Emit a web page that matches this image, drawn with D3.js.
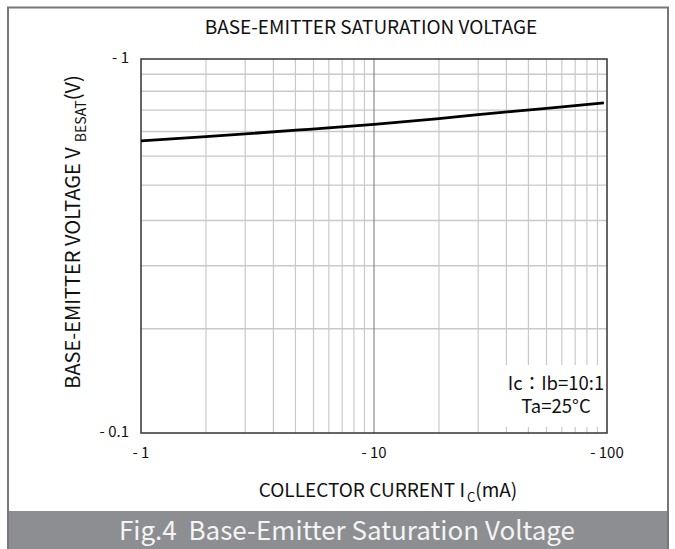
<!DOCTYPE html>
<html>
<head>
<meta charset="utf-8">
<script src="https://cdn.jsdelivr.net/npm/d3@7"></script>
<style>
  body { margin: 0; background: #fff; }
  svg text { font-family: "Noto Sans CJK SC", "Noto Sans", sans-serif; fill: #111; white-space: pre; }
</style>
</head>
<body>
<div class="d3-here"></div>
<script>
// data (magnitudes, labels carry the minus sign)
var currentMA = [1, 1.9, 4.8, 10, 19, 28, 55, 97];
var vbesat = [0.604, 0.620, 0.646, 0.669, 0.693, 0.710, 0.738, 0.763];
var xTicks = [1, 10, 100];
var xTickLabels = ['- 1', '- 10', '- 100'];
var yTicks = [0.1, 1];
var yTickLabels = ['- 0.1', '- 1'];
var xGrid = [1.9, 2.8, 3.7, 4.6, 5.5, 6.4, 7.3, 8.2, 9.1, 19, 28, 37, 46, 55, 64, 73, 82, 91];
var xMajorGrid = [10];
var yGrid = [0.19, 0.28, 0.37, 0.46, 0.55, 0.64, 0.73, 0.82, 0.91];
var noteLines = ['Ic\uff1aIb=10:1', 'Ta=25\u00b0C'];

// options
var W = 675, H = 549;
var pLeft = 141, pRight = 607, pTop = 59, pBottom = 433;
var gridColor = '#c9c9c9', majorColor = '#8a8a8a', frameColor = '#777';

var svg = d3.select('.d3-here').append('svg')
  .attr('width', W).attr('height', H);

// outer frame and caption band
svg.append('rect').attr('x', 8).attr('y', 511).attr('width', 660).attr('height', 40)
  .attr('fill', '#8d8e91');
svg.append('path').attr('d', 'M8,549 V7.5 H668 V549')
  .attr('fill', 'none').attr('stroke', frameColor).attr('stroke-width', 2);
svg.append('text').attr('x', 347).attr('y', 540).attr('text-anchor', 'middle')
  .style('font-size', '26px').style('fill', '#f4f4f4')
  .text('Fig.4  Base-Emitter Saturation Voltage');

// scales
var x = d3.scaleLog().domain([1, 100]).range([pLeft, pRight]);
var y = d3.scaleLog().domain([0.1, 1]).range([pBottom, pTop]);

// grid
var grid = svg.append('g');
grid.selectAll('.gx').data(xGrid).enter().append('line')
  .attr('x1', function(d) { return x(d); }).attr('x2', function(d) { return x(d); })
  .attr('y1', pTop).attr('y2', pBottom)
  .attr('stroke', gridColor).attr('stroke-width', 1.2);
grid.selectAll('.gy').data(yGrid).enter().append('line')
  .attr('x1', pLeft).attr('x2', pRight)
  .attr('y1', function(d) { return y(d); }).attr('y2', function(d) { return y(d); })
  .attr('stroke', gridColor).attr('stroke-width', 1.4);
grid.selectAll('.gm').data(xMajorGrid).enter().append('line')
  .attr('x1', function(d) { return x(d); }).attr('x2', function(d) { return x(d); })
  .attr('y1', pTop).attr('y2', pBottom)
  .attr('stroke', majorColor).attr('stroke-width', 1.2);

// note box covers the grid
svg.append('rect').attr('x', 495).attr('y', 365).attr('width', 108).attr('height', 62)
  .attr('fill', '#fff');
var note = svg.append('text').attr('y', 390)
  .attr('text-anchor', 'middle').style('font-size', '18.5px')
  .style('font-family', '"Noto Sans CJK TC", "Noto Sans CJK SC", sans-serif');
note.selectAll('tspan').data(noteLines).enter().append('tspan')
  .attr('x', 556).attr('dy', function(d, i) { return i ? 23 : 0; })
  .text(function(d) { return d; });

// plot border
svg.append('rect').attr('x', pLeft).attr('y', pTop)
  .attr('width', pRight - pLeft).attr('height', pBottom - pTop)
  .attr('fill', 'none').attr('stroke', '#333').attr('stroke-width', 1.5);

// curve
var line = d3.line()
  .x(function(d, i) { return x(currentMA[i]); })
  .y(function(d) { return y(d); })
  .curve(d3.curveMonotoneX);
svg.append('path').datum(vbesat).attr('d', line)
  .attr('fill', 'none').attr('stroke', '#000').attr('stroke-width', 2.8);

// tick labels
svg.selectAll('.tx').data(xTicks).enter().append('text')
  .attr('x', function(d) { return x(d); }).attr('y', 458)
  .attr('text-anchor', 'middle').style('font-size', '15px')
  .text(function(d, i) { return xTickLabels[i]; });
svg.selectAll('.ty').data(yTicks).enter().append('text')
  .attr('x', 129).attr('y', function(d) { return y(d) + 4; })
  .attr('text-anchor', 'end').style('font-size', '15px')
  .text(function(d, i) { return yTickLabels[i]; });

// titles
svg.append('text').attr('x', 371).attr('y', 34).attr('text-anchor', 'middle')
  .style('font-size', '19px').text('BASE-EMITTER SATURATION VOLTAGE');

var xl = svg.append('text').attr('x', 388).attr('y', 497).attr('text-anchor', 'middle')
  .style('font-size', '19px');
xl.append('tspan').text('COLLECTOR CURRENT I');
xl.append('tspan').attr('dy', 5).attr('dx', 2).style('font-size', '13px').text('C');
xl.append('tspan').attr('dy', -5).text('(mA)');

var yl = svg.append('text')
  .attr('transform', 'translate(80,232) rotate(-90)')
  .attr('text-anchor', 'middle').style('font-size', '20px');
yl.append('tspan').text('BASE-EMITTER VOLTAGE V');
yl.append('tspan').attr('dy', 6).attr('dx', 5).style('font-size', '14px').text('BESAT');
yl.append('tspan').attr('dy', -6).text('(V)');
</script>
</body>
</html>
